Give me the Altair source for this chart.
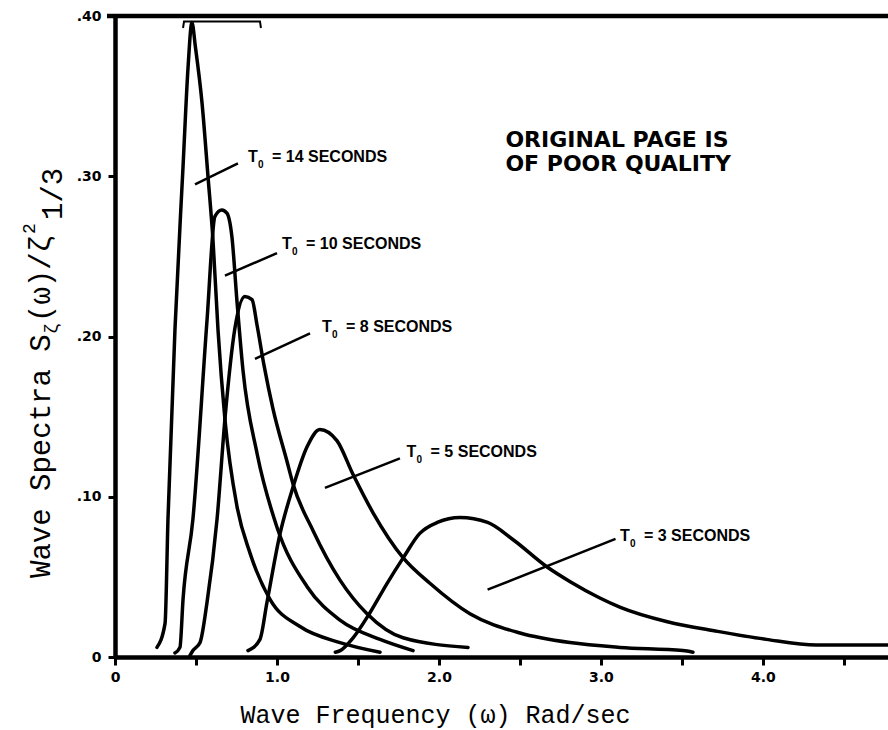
import altair as alt
import pandas as pd

# Normalised wave spectra S(w)/H^2 for five modal periods
t14_w = [0.259, 0.309, 0.327, 0.370, 0.420, 0.451, 0.475, 0.496, 0.537, 0.574, 0.605, 0.636,
         0.679, 0.753, 0.833, 0.957, 1.142, 1.389, 1.636]
t14_s = [0.006, 0.021, 0.086, 0.204, 0.306, 0.368, 0.396, 0.381, 0.346, 0.300, 0.260, 0.204,
         0.148, 0.094, 0.065, 0.036, 0.019, 0.009, 0.003]

t10_w = [0.370, 0.401, 0.420, 0.481, 0.568, 0.617, 0.660, 0.691, 0.722, 0.753, 0.790,
         0.877, 1.000, 1.185, 1.389, 1.636, 1.840]
t10_s = [0.0025, 0.006, 0.036, 0.086, 0.210, 0.275, 0.279, 0.277, 0.262, 0.222, 0.179,
         0.127, 0.081, 0.044, 0.023, 0.011, 0.004]

t8_w = [0.463, 0.481, 0.525, 0.568, 0.630, 0.680, 0.740, 0.802, 0.846, 0.877, 0.920, 0.975,
        1.062, 1.099, 1.222, 1.389, 1.556, 1.778, 2.179]
t8_s = [0.001, 0.004, 0.009, 0.034, 0.086, 0.150, 0.205, 0.225, 0.223, 0.207, 0.182, 0.155,
        0.122, 0.108, 0.079, 0.048, 0.027, 0.012, 0.006]

t5_w = [0.821, 0.895, 0.938, 1.019, 1.099, 1.185, 1.265, 1.370, 1.469, 1.593, 1.778, 1.944,
        2.191, 2.500, 2.809, 3.117, 3.506, 3.568]
t5_s = [0.004, 0.011, 0.034, 0.077, 0.106, 0.131, 0.142, 0.135, 0.114, 0.090, 0.062, 0.046,
        0.027, 0.015, 0.009, 0.006, 0.004, 0.003]

t3_w = [1.36, 1.39, 1.47, 1.57, 1.68, 1.78, 1.88, 1.99, 2.13, 2.30, 2.46, 2.67, 2.81, 2.99,
        3.12, 3.41, 3.72, 4.02, 4.33, 4.772]
t3_s = [0.003, 0.004, 0.012, 0.027, 0.046, 0.062, 0.077, 0.084, 0.087, 0.084, 0.073, 0.056,
        0.047, 0.037, 0.031, 0.022, 0.016, 0.011, 0.0075, 0.0075]

# Curve labels and their leader lines
periods = ["14", "10", "8", "5", "3"]
lead_x1 = [0.494, 0.679, 0.864, 1.296, 2.30]
lead_y1 = [0.295, 0.238, 0.186, 0.1055, 0.042]
lead_x2 = [0.759, 1.000, 1.204, 1.759, 3.09]
lead_y2 = [0.308, 0.252, 0.202, 0.124, 0.0737]
label_x = [0.821, 1.031, 1.278, 1.800, 3.117]
label_y = [0.312, 0.258, 0.206, 0.128, 0.0755]

# Stamp in the upper right
stamp_lines = ["ORIGINAL PAGE IS", "OF POOR QUALITY"]
stamp_x = [2.41, 2.41]
stamp_y = [0.3184, 0.3034]

# Small bracket mark under the top frame line
bracket_w = [0.420, 0.426, 0.895, 0.901]
bracket_s = [0.3925, 0.3965, 0.3965, 0.3925]

x_ticks = [0, 0.5, 1.0, 1.5, 2.0, 2.5, 3.0, 3.5, 4.0, 4.5]
y_ticks = [0, 0.1, 0.2, 0.3, 0.4]
X_MAX = 4.772
Y_MAX = 0.4

W, H = 773, 641

rows = []
for name, ws, ss in [("14", t14_w, t14_s), ("10", t10_w, t10_s), ("8", t8_w, t8_s),
                     ("5", t5_w, t5_s), ("3", t3_w, t3_s)]:
    for i, (w, s) in enumerate(zip(ws, ss)):
        rows.append({"period": name, "order": i, "w": w, "s": s})
curves = pd.DataFrame(rows)

leaders = pd.DataFrame({"x1": lead_x1, "y1": lead_y1, "x2": lead_x2, "y2": lead_y2})
labels = pd.DataFrame({
    "x": label_x, "y": label_y,
    "rest": [f"= {p} SECONDS" for p in periods],
})
stamp = pd.DataFrame({"x": stamp_x, "y": stamp_y, "text": stamp_lines})
frame = pd.DataFrame({"top": [Y_MAX]})
bracket = pd.DataFrame({"w": bracket_w, "s": bracket_s, "order": list(range(len(bracket_w)))})

# Pieces of the rotated y-axis title, in pixels relative to the plot area
ytitle = pd.DataFrame({
    "text": ["Wave Spectra S", "ζ", "(ω)/ζ", "2", "1/3"],
    "px": [50 - 115, 57 - 115, 50 - 115, 35 - 115, 62 - 115],
    "py": [578 - 16, 334 - 16, 322 - 16, 234 - 16, 220 - 16],
    "size": [29, 18, 29, 18, 29],
})

xs = alt.Scale(domain=[0, X_MAX], nice=False, zero=False)
ys = alt.Scale(domain=[0, Y_MAX], nice=False)

x_axis = alt.Axis(
    values=x_ticks,
    labelExpr="datum.value == 0 ? '0' : (datum.value % 1 == 0 ? format(datum.value, '.1f') : '')",
    tickSize=8, tickWidth=3, labelPadding=5, labelFlush=False, labelOverlap=False,
    labelFont="DejaVu Sans", labelFontWeight="bold", labelFontSize=14, labelColor="black",
    domainWidth=4.5, domainColor="black", tickColor="black", grid=False,
    title="Wave Frequency (ω) Rad/sec", titleFont="Liberation Mono", titleFontSize=25,
    titleFontWeight="normal", titleColor="black", titleX=320, titleY=65,
    titleAlign="center", titleBaseline="alphabetic",
)
y_axis = alt.Axis(
    values=y_ticks,
    labelExpr="datum.value == 0 ? '0' : substring(format(datum.value, '.2f'), 1)",
    tickSize=7, tickWidth=3, labelPadding=7, labelFlush=False, labelOverlap=False,
    labelFont="DejaVu Sans", labelFontWeight="bold", labelFontSize=14, labelColor="black",
    domainWidth=4.5, domainColor="black", tickColor="black", grid=False, title=None,
)

lines = alt.Chart(curves).mark_line(
    color="black", strokeWidth=3.5, interpolate="monotone", strokeCap="round", strokeJoin="round"
).encode(
    x=alt.X("w:Q", scale=xs, axis=x_axis),
    y=alt.Y("s:Q", scale=ys, axis=y_axis),
    detail="period:N",
    order="order:Q",
)

top_rule = alt.Chart(frame).mark_rule(color="black", strokeWidth=4.5).encode(
    y=alt.Y("top:Q", scale=ys, axis=None),
    x=alt.value(-8),
    x2=alt.value(W),
)

bracket_line = alt.Chart(bracket).mark_line(color="black", strokeWidth=2).encode(
    x=alt.X("w:Q", scale=xs, axis=None),
    y=alt.Y("s:Q", scale=ys, axis=None),
    order="order:Q",
)

lead = alt.Chart(leaders).mark_rule(color="black", strokeWidth=2.5).encode(
    x=alt.X("x1:Q", scale=xs, axis=None),
    y=alt.Y("y1:Q", scale=ys, axis=None),
    x2="x2:Q",
    y2="y2:Q",
)

lab_font = dict(font="Liberation Sans", fontWeight="bold", color="black", align="left",
                baseline="middle")
lab_t = alt.Chart(labels).mark_text(fontSize=16, **lab_font).encode(
    x=alt.X("x:Q", scale=xs, axis=None), y=alt.Y("y:Q", scale=ys, axis=None),
    text=alt.value("T"),
)
lab_0 = alt.Chart(labels).mark_text(fontSize=10, dx=10, dy=8, **lab_font).encode(
    x=alt.X("x:Q", scale=xs, axis=None), y=alt.Y("y:Q", scale=ys, axis=None),
    text=alt.value("0"),
)
lab_rest = alt.Chart(labels).mark_text(fontSize=16, dx=24, **lab_font).encode(
    x=alt.X("x:Q", scale=xs, axis=None), y=alt.Y("y:Q", scale=ys, axis=None),
    text="rest:N",
)

stamp_text = alt.Chart(stamp).mark_text(
    font="DejaVu Sans", fontWeight="bold", fontSize=22, color="black",
    align="left", baseline="alphabetic",
).encode(
    x=alt.X("x:Q", scale=xs, axis=None), y=alt.Y("y:Q", scale=ys, axis=None),
    text="text:N",
)

ytitle_text = alt.Chart(ytitle).mark_text(
    font="Liberation Mono", color="black", angle=270, align="left", baseline="alphabetic",
).encode(
    x=alt.X("px:Q", scale=None, axis=None),
    y=alt.Y("py:Q", scale=None, axis=None),
    size=alt.Size("size:Q", scale=None, legend=None),
    text="text:N",
)

chart = alt.layer(
    lines, top_rule, bracket_line, lead, lab_t, lab_0, lab_rest, stamp_text, ytitle_text
).resolve_axis(
    x="independent", y="independent"
).properties(
    width=W, height=H,
    padding={"left": 115, "top": 16, "right": 0, "bottom": 73},
    autosize=alt.AutoSizeParams(type="none"),
    background="white",
).configure_view(stroke=None)

chart.save("out.html", embed_options={"renderer": "svg", "actions": False})
